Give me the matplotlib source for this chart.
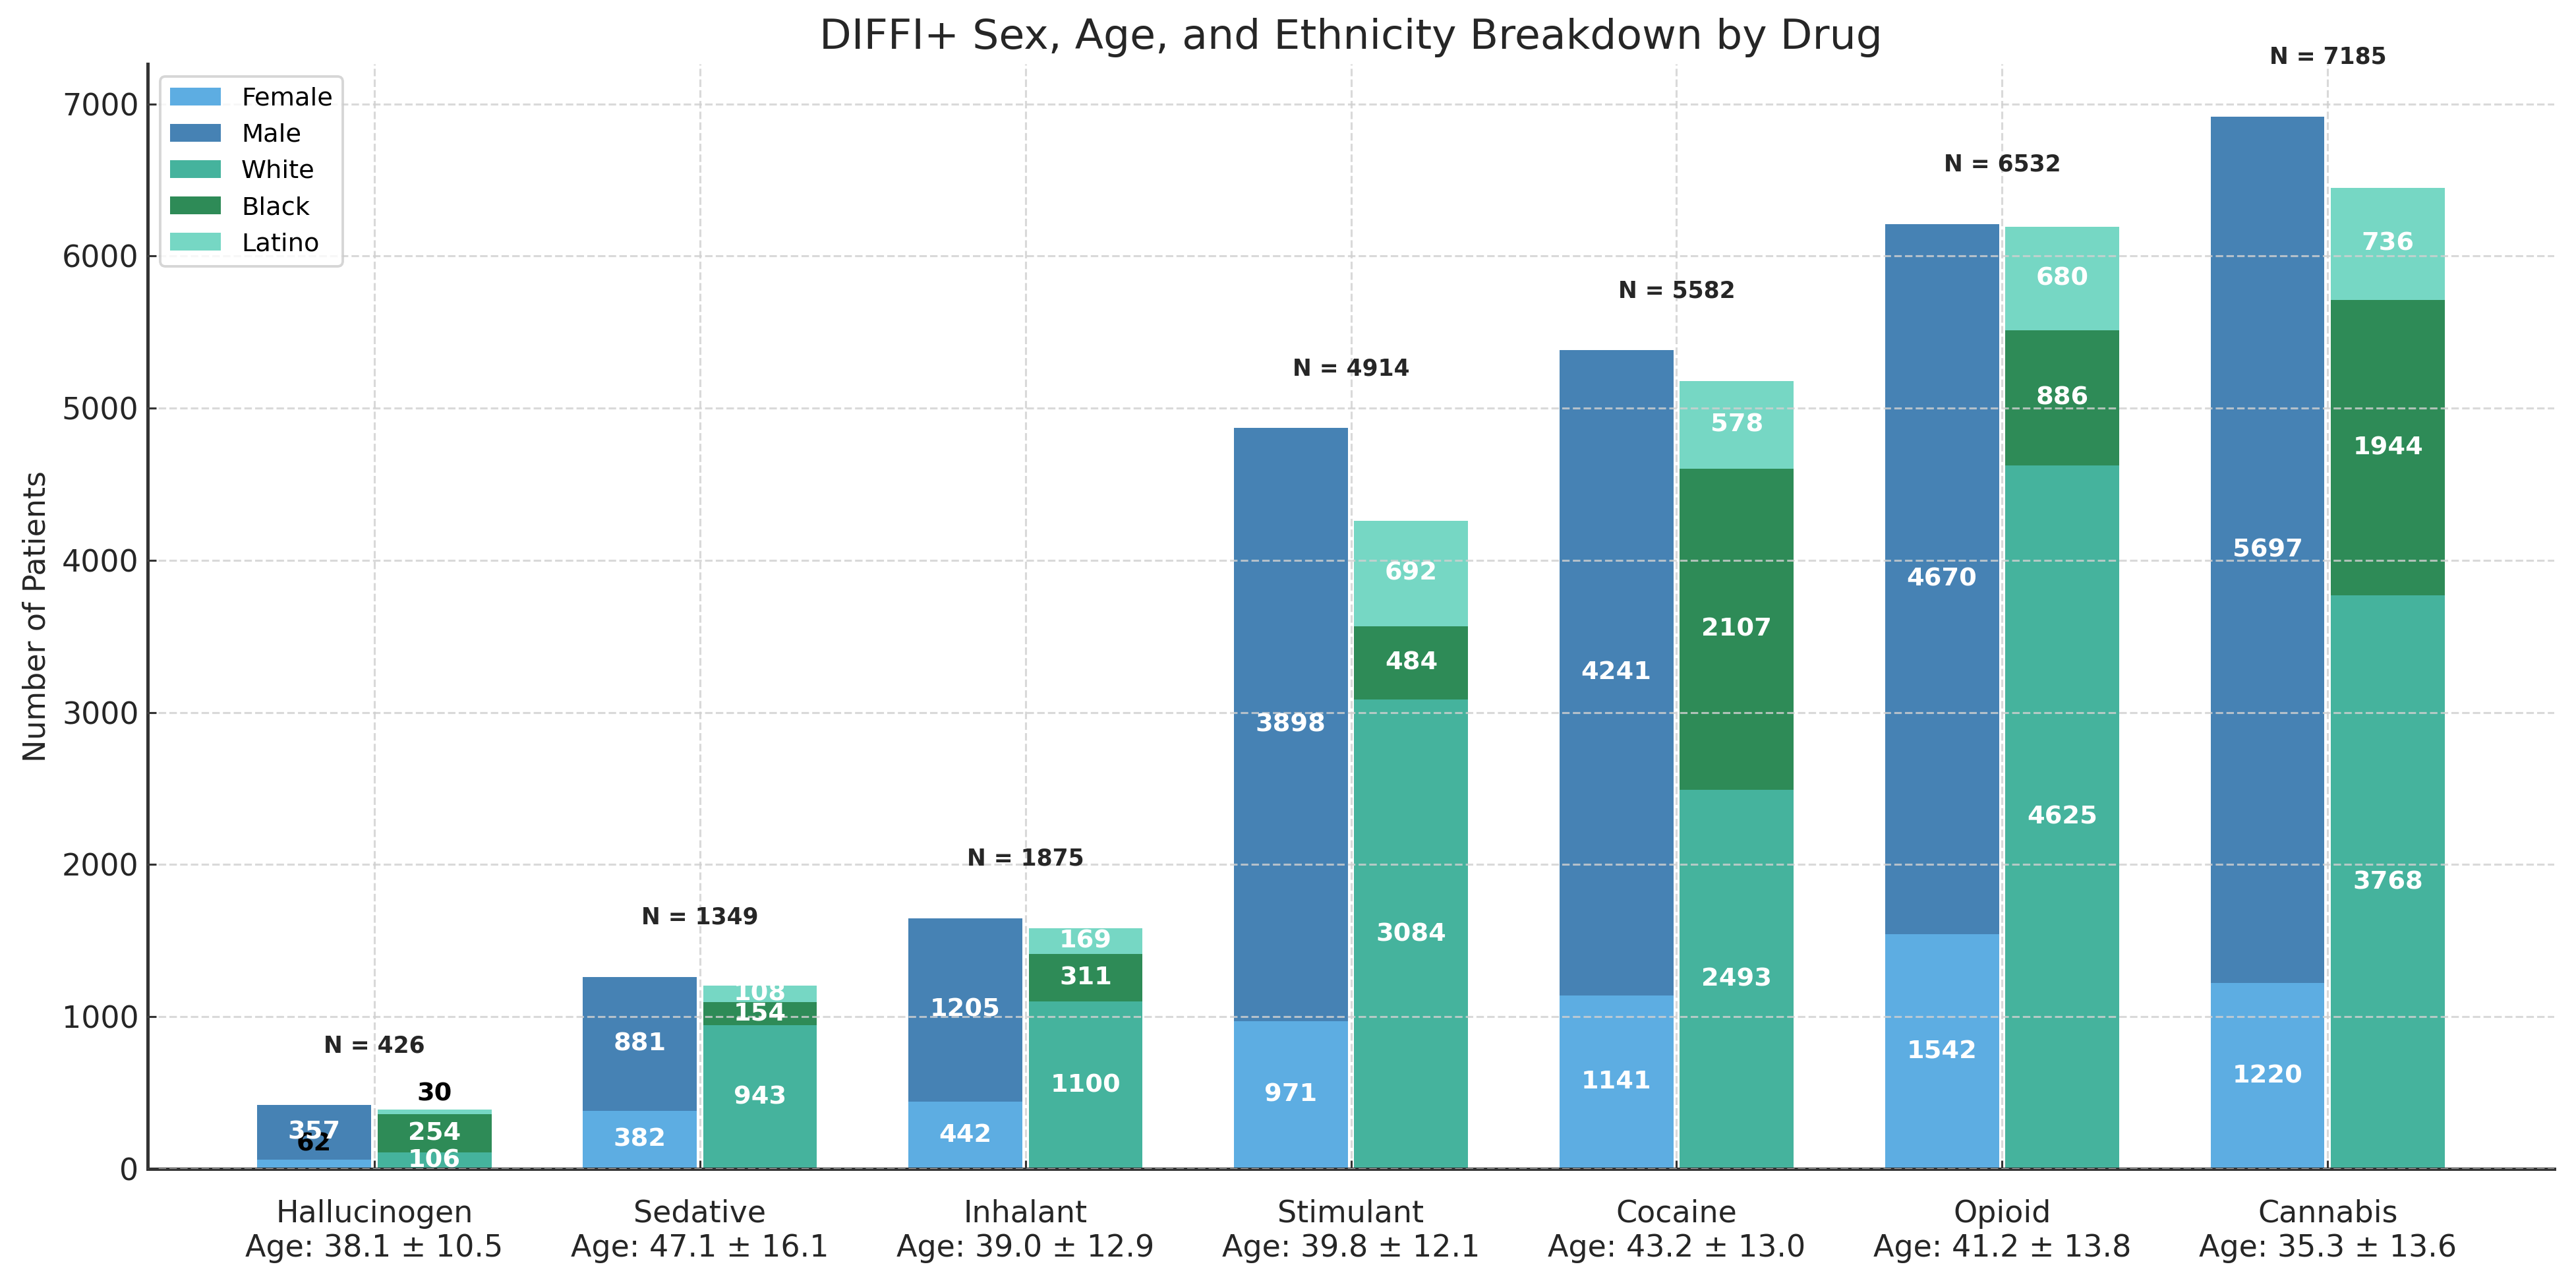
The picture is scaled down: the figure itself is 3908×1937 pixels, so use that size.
import numpy as np
import matplotlib
matplotlib.use('Agg')
import matplotlib.pyplot as plt

drugs = ['Hallucinogen', 'Sedative', 'Inhalant', 'Stimulant', 'Cocaine', 'Opioid', 'Cannabis']
age_mean = [38.1, 47.1, 39.0, 39.8, 43.2, 41.2, 35.3]
age_sd = [10.5, 16.1, 12.9, 12.1, 13.0, 13.8, 13.6]
n_total = [426, 1349, 1875, 4914, 5582, 6532, 7185]

female = [62, 382, 442, 971, 1141, 1542, 1220]
male = [357, 881, 1205, 3898, 4241, 4670, 5697]
white = [106, 943, 1100, 3084, 2493, 4625, 3768]
black = [254, 154, 311, 484, 2107, 886, 1944]
latino = [30, 108, 169, 692, 578, 680, 736]

colors = {
    'Female': '#5DADE2',
    'Male': '#4682B4',
    'White': '#45B39D',
    'Black': '#2E8B57',
    'Latino': '#76D7C4',
}

dpi = 276
fig = plt.figure(figsize=(3908 / dpi, 1937 / dpi), dpi=dpi)
ax = fig.add_axes([0.0573, 0.0847, 0.9343, 0.8652])

x = np.arange(len(drugs))
width = 0.35
off = 0.185

female = np.array(female)
male = np.array(male)
white = np.array(white)
black = np.array(black)
latino = np.array(latino)

# sex bars (left) and ethnicity bars (right)
ax.bar(x - off, female, width, color=colors['Female'], label='Female')
ax.bar(x - off, male, width, bottom=female, color=colors['Male'], label='Male')
ax.bar(x + off, white, width, color=colors['White'], label='White')
ax.bar(x + off, black, width, bottom=white, color=colors['Black'], label='Black')
ax.bar(x + off, latino, width, bottom=white + black, color=colors['Latino'], label='Latino')


def label_segments(xpos, vals, bottoms):
    for xi, v, b in zip(xpos, vals, bottoms):
        if v < 100:
            ax.text(xi, b + v + 100, str(v), ha='center', va='center',
                    fontsize=10, fontweight='bold', color='black')
        else:
            ax.text(xi, b + v / 2, str(v), ha='center', va='center',
                    fontsize=10, fontweight='bold', color='white')


label_segments(x - off, female, np.zeros(len(x)))
label_segments(x - off, male, female)
label_segments(x + off, white, np.zeros(len(x)))
label_segments(x + off, black, white)
label_segments(x + off, latino, white + black)

sex_tot = female + male
eth_tot = white + black + latino
for xi, n, t1, t2 in zip(x, n_total, sex_tot, eth_tot):
    ax.text(xi, max(t1, t2) + 390, f'N = {n}', ha='center', va='center',
            fontsize=9, fontweight='bold', color='#262626')

ax.set_xticks(x)
ax.set_xticklabels([f'{d}\nAge: {m:.1f} \u00b1 {s:.1f}' for d, m, s in zip(drugs, age_mean, age_sd)],
                   fontsize=12, color='#262626')
ax.tick_params(axis='y', labelsize=12, labelcolor='#262626')
ax.tick_params(direction='in', length=3.5, color='#333333')
ax.tick_params(axis='x', pad=12)
ax.set_ylabel('Number of Patients', fontsize=12, color='#262626')
ax.set_title('DIFFI+ Sex, Age, and Ethnicity Breakdown by Drug', fontsize=16.5, color='#262626')

ax.grid(True, linestyle='--', color='#d0d0d0', linewidth=0.8, alpha=0.8)
ax.set_axisbelow(False)

for s in ['top', 'right']:
    ax.spines[s].set_visible(False)
for s in ['left', 'bottom']:
    ax.spines[s].set_color('#333333')
    ax.spines[s].set_linewidth(1.3)

ax.legend(loc='upper left', fontsize=10, framealpha=0.8)

fig.savefig('out.png', dpi=dpi)
